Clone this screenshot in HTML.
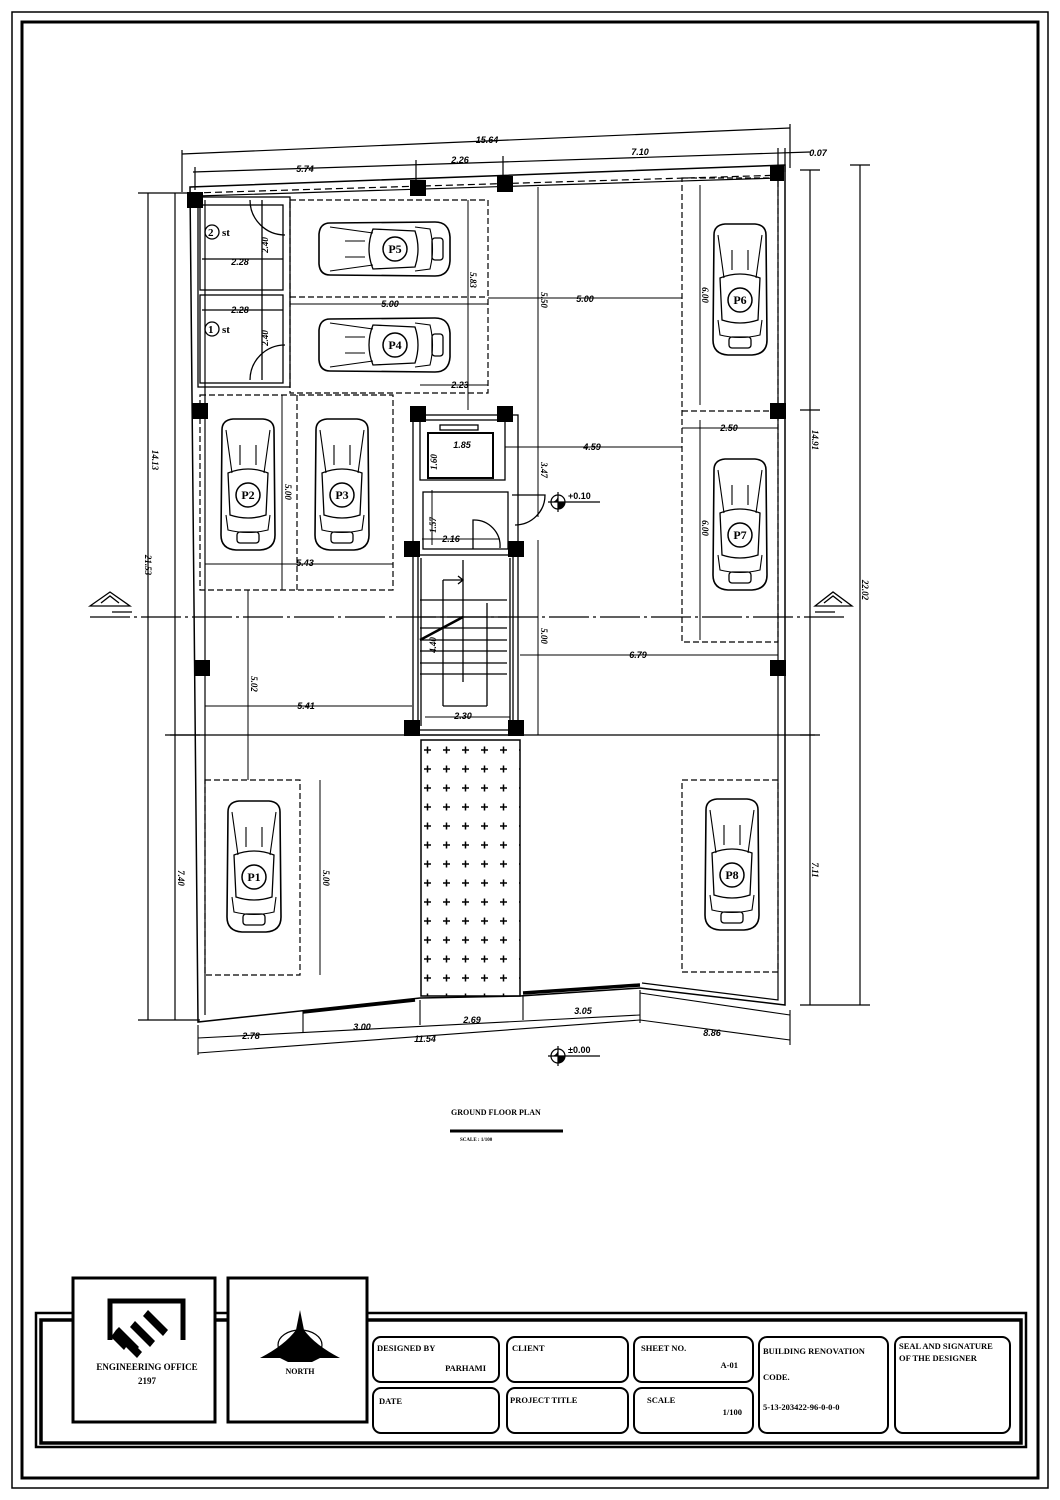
<!DOCTYPE html>
<html><head><meta charset="utf-8"><style>
html,body{margin:0;padding:0;background:#fff}
svg{display:block}
text{font-family:"Liberation Serif",serif;font-weight:bold;fill:#000}
.d{font-family:"Liberation Sans",sans-serif;font-style:italic;font-size:9px}
</style></head><body>
<svg width="1060" height="1500" viewBox="0 0 1060 1500" xmlns="http://www.w3.org/2000/svg">
<defs>
<pattern id="pl" width="19" height="19" patternUnits="userSpaceOnUse">
<path d="M6 9h7M9.5 5.5v7" stroke="#000" stroke-width="1.5"/>
</pattern>
<g id="car">
<path d="M-26 -55 Q-26 -65 -15 -66 L15 -66 Q26 -65 26 -55 L27 50 Q27 64 12 65 L-12 65 Q-27 64 -27 50 Z" fill="#fff" stroke="#000" stroke-width="1.6"/>
<path d="M-22 -55 L-16 -12 M22 -55 L16 -12 M-8 -40 L-8 -20 M8 -40 L8 -20" stroke="#000" stroke-width="1.1" fill="none"/>
<path d="M-20 -12 Q0 -20 20 -12 L18 30 Q0 36 -18 30 Z" fill="none" stroke="#000" stroke-width="1.3"/>
<path d="M-22 30 L-20 45 Q0 50 20 45 L22 30" fill="none" stroke="#000" stroke-width="1.1"/>
<rect x="-11" y="47" width="22" height="11" rx="3" fill="none" stroke="#000" stroke-width="1.3"/>
<circle cx="0" cy="10" r="12" fill="#fff" stroke="#000" stroke-width="1.5"/>
</g>
</defs>
<rect x="12" y="12" width="1036" height="1476" fill="none" stroke="#000" stroke-width="1.5"/>
<rect x="22" y="22" width="1016" height="1456" fill="none" stroke="#000" stroke-width="3"/>

<rect x="36" y="1313" width="990" height="134" fill="none" stroke="#000" stroke-width="2.5"/>
<rect x="41" y="1320" width="980" height="123" fill="none" stroke="#000" stroke-width="3.5"/>
<rect x="73" y="1278" width="142" height="144" fill="#fff" stroke="#000" stroke-width="3"/>
<rect x="228" y="1278" width="139" height="144" fill="#fff" stroke="#000" stroke-width="3"/>
<path d="M110 1340 V1301 H183 V1340" fill="none" stroke="#000" stroke-width="5"/>
<path d="M116 1330 l-5 7 13 13 5-7z M116 1330 l3-3 20 20 -3 3z" fill="#000"/>
<path d="M117 1338 l5-6 20 20 -5 6z M130 1327 l5-6 20 20 -5 6z M143 1316 l5-6 20 20 -5 6z" fill="#000"/>
<text x="147" y="1370" font-size="9" text-anchor="middle">ENGINEERING OFFICE</text>
<text x="147" y="1384" font-size="9" text-anchor="middle">2197</text>
<path d="M300 1310 L304 1330 Q315 1345 340 1358 L320 1358 L312 1362 L288 1362 L280 1358 L260 1358 Q285 1345 296 1330 Z" fill="#000"/>
<ellipse cx="300" cy="1345" rx="22" ry="15" fill="none" stroke="#000" stroke-width="1.2"/>
<text x="300" y="1374" font-size="8" text-anchor="middle">NORTH</text>
<g fill="none" stroke="#000" stroke-width="2">
<rect x="373" y="1337" width="126" height="45" rx="8"/>
<rect x="507" y="1337" width="121" height="45" rx="8"/>
<rect x="634" y="1337" width="119" height="45" rx="8"/>
<rect x="373" y="1388" width="126" height="45" rx="8"/>
<rect x="507" y="1388" width="121" height="45" rx="8"/>
<rect x="634" y="1388" width="119" height="45" rx="8"/>
<rect x="759" y="1337" width="129" height="96" rx="8"/>
<rect x="895" y="1337" width="115" height="96" rx="8"/>
</g>
<g font-size="8.5">
<text x="377" y="1351">DESIGNED BY</text><text x="486" y="1371" text-anchor="end">PARHAMI</text>
<text x="512" y="1351">CLIENT</text>
<text x="641" y="1351">SHEET NO.</text><text x="738" y="1368" text-anchor="end">A-01</text>
<text x="379" y="1404">DATE</text>
<text x="510" y="1403">PROJECT TITLE</text>
<text x="647" y="1403">SCALE</text><text x="742" y="1415" text-anchor="end">1/100</text>
<text x="763" y="1354">BUILDING RENOVATION</text>
<text x="763" y="1380">CODE.</text>
<text x="763" y="1410">5-13-203422-96-0-0-0</text>
<text x="899" y="1349">SEAL AND SIGNATURE</text>
<text x="899" y="1361">OF THE DESIGNER</text>
</g>

<text x="451" y="1115" font-size="8">GROUND FLOOR PLAN</text>
<line x1="450" y1="1131" x2="563" y2="1131" stroke="#000" stroke-width="3"/>
<text x="460" y="1141" font-size="5">SCALE : 1/100</text>

<g stroke="#000" stroke-width="1.2" fill="none">
<line x1="182" y1="154" x2="790" y2="128"/>
<line x1="182" y1="150" x2="182" y2="192"/>
<line x1="790" y1="124" x2="790" y2="168"/>
<line x1="193" y1="172" x2="810" y2="152"/>
<line x1="195" y1="167" x2="195" y2="190"/>
<line x1="416" y1="160" x2="416" y2="185"/>
<line x1="503" y1="156" x2="503" y2="182"/>
<line x1="778" y1="148" x2="778" y2="172"/>
<line x1="785" y1="148" x2="785" y2="172"/>
<line x1="810" y1="170" x2="810" y2="1005"/>
<line x1="860" y1="165" x2="860" y2="1005"/>
<line x1="800" y1="170" x2="820" y2="170"/>
<line x1="800" y1="410" x2="820" y2="410"/>
<line x1="850" y1="165" x2="870" y2="165"/>
<line x1="800" y1="735" x2="820" y2="735"/>
<line x1="800" y1="1005" x2="870" y2="1005"/>
<line x1="148" y1="193" x2="148" y2="1020"/>
<line x1="175" y1="193" x2="175" y2="735"/>
<line x1="175" y1="735" x2="175" y2="1020"/>
<line x1="138" y1="193" x2="200" y2="193"/>
<line x1="138" y1="1020" x2="200" y2="1020"/>
<line x1="165" y1="735" x2="200" y2="735"/>
</g>
<g stroke="#000" stroke-width="1.2" fill="#fff">
<path d="M190 187 L785 165 L785 1005 L640 988 L520 996 L420 998 L198 1022 Z" fill="none" stroke-width="1.5"/>
<path d="M197 196 L778 178 L778 1000 L642 983" fill="none"/>
<path d="M205 200 L205 1015" fill="none"/>
<line x1="193" y1="193" x2="785" y2="175" stroke-dasharray="7 4"/>
<line x1="303" y1="1012" x2="415" y2="1000" stroke-width="3.5"/>
<line x1="523" y1="993" x2="640" y2="985" stroke-width="3.5"/>
</g>
<g stroke="#000" stroke-width="1.1" fill="none">
<line x1="198" y1="1038" x2="640" y2="1015"/>
<line x1="198" y1="1053" x2="640" y2="1020"/>
<line x1="640" y1="990" x2="640" y2="1023"/>
<line x1="640" y1="1020" x2="790" y2="1040"/>
<line x1="198" y1="1025" x2="198" y2="1055"/>
<line x1="303" y1="1010" x2="303" y2="1033"/>
<line x1="420" y1="1000" x2="420" y2="1025"/>
<line x1="523" y1="995" x2="523" y2="1020"/>
<line x1="790" y1="1010" x2="790" y2="1045"/>
<line x1="640" y1="993" x2="790" y2="1015"/>
</g>
<g stroke="#000" stroke-width="1.3" fill="none">
<line x1="90" y1="617" x2="845" y2="617" stroke-dasharray="40 4 3 4"/>
<line x1="170" y1="735" x2="815" y2="735"/>
<path d="M90 606 L110 592 L130 606 Z M101 603 L110 596 L119 603"/>
<path d="M815 606 L833 592 L852 606 Z M824 603 L833 596 L842 603"/>
<line x1="112" y1="612" x2="132" y2="612"/>
<line x1="815" y1="612" x2="835" y2="612"/>
</g>
<g stroke="#000" stroke-width="1.3" fill="none">
<rect x="198" y="197" width="92" height="190"/>
<rect x="200" y="205" width="83" height="85"/>
<rect x="200" y="295" width="83" height="88"/>
<line x1="262" y1="200" x2="262" y2="380"/>
<line x1="202" y1="259" x2="283" y2="259"/>
<line x1="202" y1="310" x2="283" y2="310"/>
<path d="M250 200 A35 35 0 0 0 285 235"/>
<path d="M250 380 A35 35 0 0 1 285 345"/>
<circle cx="212" cy="232" r="7"/>
<circle cx="212" cy="329" r="7"/>
</g>
<text x="208" y="236" font-size="11" font-family="Liberation Sans">2</text>
<text x="222" y="236" font-size="11" font-family="Liberation Sans">st</text>
<text x="208" y="333" font-size="11" font-family="Liberation Sans">1</text>
<text x="222" y="333" font-size="11" font-family="Liberation Sans">st</text>

<g stroke="#000" stroke-width="1.2" fill="none" stroke-dasharray="6 3">
<rect x="290" y="200" width="198" height="193"/>
<line x1="290" y1="297" x2="488" y2="297"/>
<rect x="200" y="395" width="193" height="195"/>
<line x1="297" y1="395" x2="297" y2="590"/>
<rect x="682" y="178" width="96" height="464"/>
<line x1="682" y1="411" x2="778" y2="411"/>
<rect x="205" y="780" width="95" height="195"/>
<rect x="682" y="780" width="96" height="192"/>
</g>
<g stroke="#000" stroke-width="1" fill="none">
<line x1="468" y1="200" x2="468" y2="410"/>
<line x1="538" y1="187" x2="538" y2="517"/>
<line x1="538" y1="540" x2="538" y2="735"/>
<line x1="488" y1="298" x2="682" y2="298"/>
<line x1="290" y1="304" x2="488" y2="304"/>
<line x1="420" y1="385" x2="488" y2="385"/>
<line x1="505" y1="447" x2="682" y2="447"/>
<line x1="700" y1="185" x2="700" y2="405"/>
<line x1="700" y1="420" x2="700" y2="640"/>
<line x1="682" y1="428" x2="778" y2="428"/>
<line x1="282" y1="395" x2="282" y2="590"/>
<line x1="205" y1="564" x2="393" y2="564"/>
<line x1="248" y1="590" x2="248" y2="780"/>
<line x1="205" y1="706" x2="412" y2="706"/>
<line x1="320" y1="780" x2="320" y2="975"/>
<line x1="520" y1="655" x2="778" y2="655"/>
<line x1="422" y1="539" x2="500" y2="539"/>
<line x1="432" y1="490" x2="432" y2="545"/>
<line x1="425" y1="717" x2="510" y2="717"/>
</g>
<g stroke="#000" stroke-width="1.3" fill="none">
<rect x="413" y="415" width="105" height="320"/>
<rect x="420" y="420" width="85" height="60"/>
<rect x="428" y="433" width="65" height="45" stroke-width="2"/>
<rect x="440" y="425" width="38" height="5"/>
<rect x="423" y="492" width="85" height="57"/>
<path d="M473 549 V520 A26 26 0 0 1 500 548"/>
<path d="M512 495 H545 A30 30 0 0 1 515 525"/>
<rect x="418" y="555" width="95" height="175"/>
<line x1="421" y1="558" x2="421" y2="726"/>
<line x1="510" y1="558" x2="510" y2="726"/>
<line x1="420" y1="600" x2="507" y2="600"/>
<line x1="420" y1="617" x2="507" y2="617"/>
<line x1="420" y1="628" x2="507" y2="628"/>
<line x1="420" y1="640" x2="507" y2="640"/>
<line x1="420" y1="651" x2="507" y2="651"/>
<line x1="420" y1="663" x2="507" y2="663"/>
<line x1="420" y1="674" x2="507" y2="674"/>
<line x1="463" y1="560" x2="463" y2="682"/>
<path d="M443 580 H463 M458 576 L463 580 L458 584"/>
<line x1="443" y1="580" x2="443" y2="706"/>
<line x1="443" y1="706" x2="487" y2="706"/>
<line x1="487" y1="603" x2="487" y2="706"/>
<line x1="420" y1="640" x2="463" y2="617" stroke-width="2.5"/>
</g>
<rect x="421" y="740" width="99" height="256" fill="url(#pl)" stroke="#000" stroke-width="1.5"/>

<g fill="#000">
<rect x="187" y="192" width="16" height="16"/>
<rect x="410" y="180" width="16" height="16"/>
<rect x="497" y="176" width="16" height="16"/>
<rect x="770" y="165" width="14" height="16"/>
<rect x="192" y="403" width="16" height="16"/>
<rect x="410" y="406" width="16" height="16"/>
<rect x="497" y="406" width="16" height="16"/>
<rect x="770" y="403" width="16" height="16"/>
<rect x="404" y="541" width="16" height="16"/>
<rect x="508" y="541" width="16" height="16"/>
<rect x="194" y="660" width="16" height="16"/>
<rect x="770" y="660" width="16" height="16"/>
<rect x="404" y="720" width="16" height="16"/>
<rect x="508" y="720" width="16" height="16"/>
</g>

<use href="#car" transform="translate(385,249) rotate(-90)"/>
<use href="#car" transform="translate(385,345) rotate(-90)"/>
<use href="#car" transform="translate(248,485)"/>
<use href="#car" transform="translate(342,485)"/>
<use href="#car" transform="translate(740,290)"/>
<use href="#car" transform="translate(740,525)"/>
<use href="#car" transform="translate(254,867)"/>
<use href="#car" transform="translate(732,865)"/>
<g font-size="12" text-anchor="middle">
<text x="395" y="253">P5</text><text x="395" y="349">P4</text>
<text x="248" y="499">P2</text><text x="342" y="499">P3</text>
<text x="740" y="304">P6</text><text x="740" y="539">P7</text>
<text x="254" y="881">P1</text><text x="732" y="879">P8</text>
</g>

<g stroke="#000" fill="none" stroke-width="1.2">
<circle cx="558" cy="502" r="7"/><line x1="548" y1="502" x2="600" y2="502"/><line x1="558" y1="492" x2="558" y2="512"/>
<circle cx="558" cy="1056" r="7"/><line x1="548" y1="1056" x2="600" y2="1056"/><line x1="558" y1="1046" x2="558" y2="1066"/>
</g>
<path d="M558 502 h7 a7 7 0 0 1 -7 7 z M558 502 h-7 a7 7 0 0 0 7 -7z" fill="#000"/>
<path d="M558 1056 h7 a7 7 0 0 1 -7 7 z M558 1056 h-7 a7 7 0 0 0 7 -7z" fill="#000"/>
<text x="568" y="499" class="d" style="font-style:normal" font-size="8">+0.10</text>
<text x="568" y="1053" class="d" style="font-style:normal" font-size="8">±0.00</text>

<g class="d" text-anchor="middle">
<text x="487" y="143" class="d">15.64</text>
<text x="305" y="172" class="d">5.74</text>
<text x="460" y="163" class="d">2.26</text>
<text x="640" y="155" class="d">7.10</text>
<text x="818" y="156" class="d">0.07</text>
<text x="240" y="265" class="d">2.28</text>
<text x="240" y="313" class="d">2.28</text>
<text x="390" y="307" class="d">5.00</text>
<text x="585" y="302" class="d">5.00</text>
<text x="460" y="388" class="d">2.23</text>
<text x="592" y="450" class="d">4.59</text>
<text x="729" y="431" class="d">2.50</text>
<text x="305" y="566" class="d">5.43</text>
<text x="306" y="709" class="d">5.41</text>
<text x="638" y="658" class="d">6.79</text>
<text x="451" y="542" class="d">2.16</text>
<text x="462" y="448" class="d">1.85</text>
<text x="463" y="719" class="d">2.30</text>
<text x="251" y="1039" class="d">2.78</text>
<text x="362" y="1030" class="d">3.00</text>
<text x="472" y="1023" class="d">2.69</text>
<text x="583" y="1014" class="d">3.05</text>
<text x="425" y="1042" class="d">11.54</text>
<text x="712" y="1036" class="d">8.86</text>
</g>
<g class="d" text-anchor="middle">
<text transform="translate(268,245) rotate(-90)">2.40</text>
<text transform="translate(268,338) rotate(-90)">2.40</text>
<text transform="translate(470,280) rotate(90)">5.83</text>
<text transform="translate(541,300) rotate(90)">5.50</text>
<text transform="translate(541,470) rotate(90)">3.47</text>
<text transform="translate(541,636) rotate(90)">5.00</text>
<text transform="translate(702,295) rotate(90)">6.00</text>
<text transform="translate(702,528) rotate(90)">6.00</text>
<text transform="translate(285,492) rotate(90)">5.00</text>
<text transform="translate(251,684) rotate(90)">5.02</text>
<text transform="translate(323,878) rotate(90)">5.00</text>
<text transform="translate(437,462) rotate(-90)">1.60</text>
<text transform="translate(436,525) rotate(-90)">1.57</text>
<text transform="translate(436,645) rotate(-90)">4.40</text>
<text transform="translate(152,460) rotate(90)">14.13</text>
<text transform="translate(145,565) rotate(90)">21.53</text>
<text transform="translate(178,878) rotate(90)">7.40</text>
<text transform="translate(812,440) rotate(90)">14.91</text>
<text transform="translate(862,590) rotate(90)">22.02</text>
<text transform="translate(812,870) rotate(90)">7.11</text>
</g>
</svg>
</body></html>
